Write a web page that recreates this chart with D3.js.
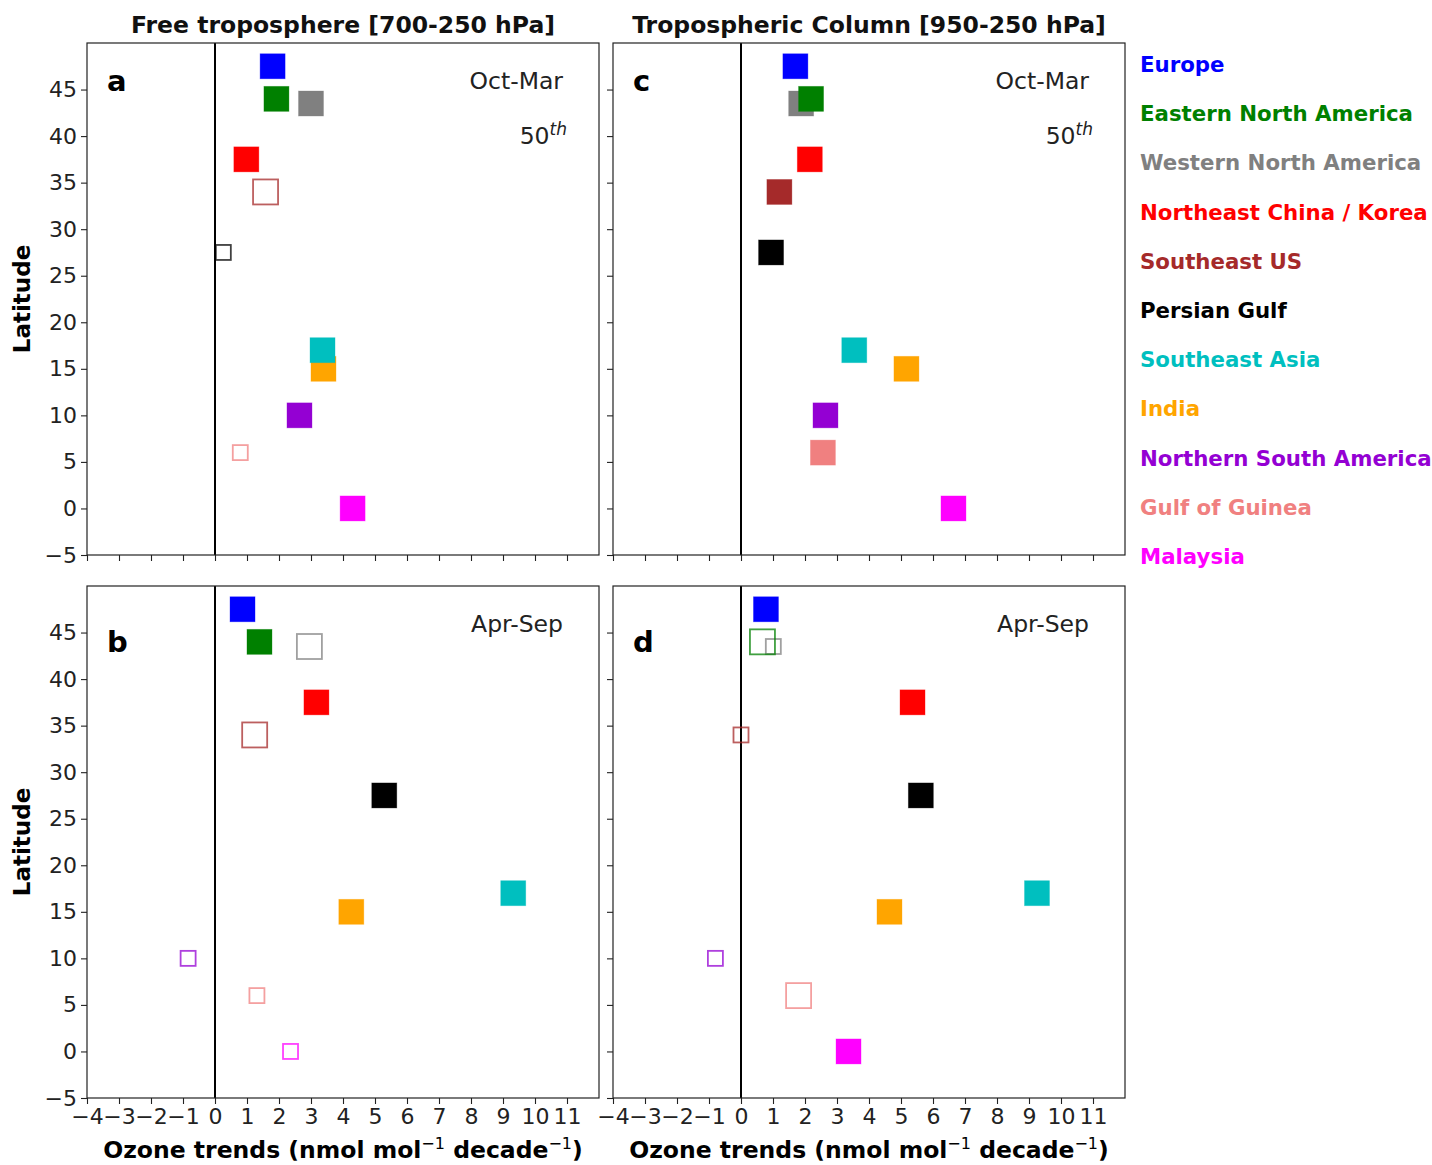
<!DOCTYPE html>
<html>
<head>
<meta charset="utf-8">
<script src="https://cdn.jsdelivr.net/npm/d3@7"></script>
<style>
body { margin: 0; background: #fff; }
text { font-family: "DejaVu Sans", sans-serif; }
</style>
</head>
<body>
<script>
// regions, drawn in reverse order so the first ones end on top
var regions = ['Europe', 'Eastern North America', 'Western North America', 'Northeast China / Korea',
    'Southeast US', 'Persian Gulf', 'Southeast Asia', 'India', 'Northern South America',
    'Gulf of Guinea', 'Malaysia'];
var colors = ['#0000ff', '#008000', '#808080', '#ff0000', '#a52a2a', '#000000',
    '#00bfbf', '#ffa500', '#9400d3', '#f08080', '#ff00ff'];
var lats = [47.5, 44, 43.5, 37.5, 34, 27.5, 17, 15, 10, 6, 0];

// F = filled, H = hollow large, h = hollow small
var trendsA = [1.8, 1.92, 3.0, 0.98, 1.58, 0.26, 3.36, 3.39, 2.64, 0.79, 4.3];
var styleA  = ['F', 'F', 'F', 'F', 'H', 'h', 'F', 'F', 'F', 'h', 'F'];
var trendsB = [0.86, 1.39, 2.95, 3.17, 1.24, 5.29, 9.32, 4.26, -0.84, 1.31, 2.36];
var styleB  = ['F', 'F', 'H', 'F', 'H', 'F', 'F', 'F', 'h', 'h', 'h'];
var trendsC = [1.7, 2.19, 1.88, 2.15, 1.2, 0.94, 3.54, 5.17, 2.64, 2.56, 6.64];
var styleC  = ['F', 'F', 'F', 'F', 'F', 'F', 'F', 'F', 'F', 'F', 'F'];
var trendsD = [0.78, 0.67, 1.01, 5.36, 0.0, 5.62, 9.25, 4.64, -0.8, 1.8, 3.36];
var styleD  = ['F', 'H', 'h', 'F', 'h', 'F', 'F', 'F', 'h', 'H', 'F'];

var xTicks = d3.range(-4, 12);
var yTicks = d3.range(-5, 50, 5);
var titles = ['Free troposphere [700-250 hPa]', 'Tropospheric Column [950-250 hPa]'];

var W = 1432, H = 1165,
    pw = 512, ph = 512;

var svg = d3.select('body').append('svg').attr('width', W).attr('height', H);

var panels = [
    {letter: 'a', left: 87,  top: 43,  trends: trendsA, style: styleA, season: 'Oct-Mar', pct: true,  xlab: false, ylab: true},
    {letter: 'b', left: 87,  top: 586, trends: trendsB, style: styleB, season: 'Apr-Sep', pct: false, xlab: true,  ylab: true},
    {letter: 'c', left: 613, top: 43,  trends: trendsC, style: styleC, season: 'Oct-Mar', pct: true,  xlab: false, ylab: false},
    {letter: 'd', left: 613, top: 586, trends: trendsD, style: styleD, season: 'Apr-Sep', pct: false, xlab: true,  ylab: false}
];

var x = d3.scaleLinear().domain([-4, 12]).range([0, pw]);
var y = d3.scaleLinear().domain([-5, 50]).range([ph, 0]);

var mkSize = function(d){ return d.s == 'h' ? 15 : 25; };

panels.forEach(function(p){
    var g = svg.append('g').attr('transform', 'translate(' + p.left + ',' + p.top + ')');

    var xa = d3.axisBottom(x).tickValues(xTicks).tickSize(6).tickSizeOuter(0).tickPadding(2);
    if (!p.xlab) xa.tickFormat('');
    var gx = g.append('g').attr('transform', 'translate(0,' + ph + ')').call(xa);

    var ya = d3.axisLeft(y).tickValues(yTicks).tickSize(6).tickSizeOuter(0).tickPadding(4);
    if (!p.ylab) ya.tickFormat('');
    var gy = g.append('g').call(ya);

    [gx, gy].forEach(function(a){
        a.select('.domain').remove();
        a.selectAll('line').attr('stroke', '#222').attr('stroke-width', 1.1);
        a.selectAll('text').attr('fill', '#222').style('font-size', '22px')
            .style('font-family', '"DejaVu Sans", sans-serif');
    });
    gx.selectAll('text').attr('dy', '0.8em');

    // zero line
    g.append('line').attr('x1', x(0)).attr('x2', x(0)).attr('y1', 0).attr('y2', ph)
        .attr('stroke', '#000').attr('stroke-width', 2);

    var data = regions.map(function(r, i){
        return {name: r, color: colors[i], lat: lats[i], v: p.trends[i], s: p.style[i]};
    }).reverse();

    g.selectAll('.mk').data(data).enter().append('rect')
        .attr('class', 'mk')
        .attr('x', function(d){ return x(d.v) - mkSize(d) / 2; })
        .attr('y', function(d){ return y(d.lat) - mkSize(d) / 2; })
        .attr('width', mkSize)
        .attr('height', mkSize)
        .attr('fill', function(d){ return d.s == 'F' ? d.color : 'none'; })
        .attr('stroke', function(d){ return d.color; })
        .attr('stroke-width', function(d){ return d.s == 'F' ? 0.8 : 1.8; })
        .attr('stroke-opacity', function(d){ return d.s == 'F' ? 0.4 : 0.75; });

    // frame
    g.append('rect').attr('width', pw).attr('height', ph)
        .attr('fill', 'none').attr('stroke', '#222').attr('stroke-width', 1.2);

    g.append('text').attr('x', 20).attr('y', p.top < 100 ? 48 : 66)
        .style('font-size', '29px').style('font-weight', 'bold').text(p.letter);

    g.append('text').attr('x', 476).attr('y', 46).attr('text-anchor', 'end')
        .attr('fill', '#222').style('font-size', '23.5px').text(p.season);

    if (p.pct) {
        var t = g.append('text').attr('x', 480).attr('y', 101).attr('text-anchor', 'end')
            .attr('fill', '#222').style('font-size', '23.5px');
        t.append('tspan').text('50');
        t.append('tspan').attr('dy', -9).style('font-size', '17px').style('font-style', 'italic').text('th');
    }

    if (p.ylab) {
        g.append('text').attr('transform', 'translate(-57,' + (ph / 2) + ') rotate(-90)')
            .attr('text-anchor', 'middle').style('font-size', '23px').style('font-weight', 'bold')
            .text('Latitude');
    }

    if (p.xlab) {
        var xl = g.append('text').attr('x', pw / 2).attr('y', ph + 60).attr('text-anchor', 'middle')
            .style('font-size', '23.5px').style('font-weight', 'bold');
        xl.append('tspan').text('Ozone trends (nmol mol');
        xl.append('tspan').attr('dy', -9).style('font-size', '16px').style('font-weight', 'normal').text('\u22121');
        xl.append('tspan').attr('dy', 9).text(' decade');
        xl.append('tspan').attr('dy', -9).style('font-size', '16px').style('font-weight', 'normal').text('\u22121');
        xl.append('tspan').attr('dy', 9).text(')');
    }
});

titles.forEach(function(t, i){
    svg.append('text').attr('x', [87, 613][i] + pw / 2).attr('y', 33).attr('text-anchor', 'middle')
        .attr('fill', '#111').style('font-size', '23.5px').style('font-weight', 'bold').text(t);
});

// legend as coloured labels
svg.selectAll('.leg').data(regions).enter().append('text')
    .attr('class', 'leg')
    .attr('x', 1140)
    .attr('y', function(d, i){ return 72 + i * 49.2; })
    .attr('fill', function(d, i){ return colors[i]; })
    .style('font-size', '21.3px').style('font-weight', 'bold')
    .text(function(d){ return d; });
</script>
</body>
</html>
